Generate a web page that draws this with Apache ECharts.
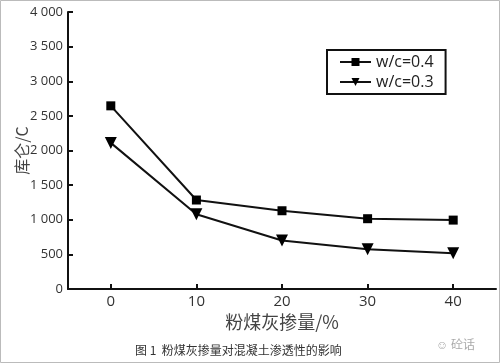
<!DOCTYPE html>
<html><head><meta charset="utf-8">
<script src="https://cdn.jsdelivr.net/npm/echarts@6/dist/echarts.min.js"></script>
<style>html,body{margin:0;padding:0;background:#fff}#c{width:500px;height:363px}</style>
</head><body><div id="c"></div>
<script>
const fly = [0, 10, 20, 30, 40];
const wc04 = [2645, 1285, 1130, 1015, 995];
const wc03 = [2110, 1080, 700, 575, 515];
const yTicks = [0, 500, 1000, 1500, 2000, 2500, 3000, 3500, 4000];
const names = ['w/c=0.4', 'w/c=0.3'];
const font = '"Open Sans", "Noto Sans CJK SC", sans-serif';
const cjk = '"Noto Sans CJK SC", sans-serif';
const chart = echarts.init(document.getElementById('c'));
const fmt = v => v >= 1000 ? Math.floor(v/1000) + ' ' + String(v%1000).padStart(3,'0') : String(v);
chart.setOption({
  animation: false,
  backgroundColor: '#fff',
  grid: {left: 68, right: 4, top: 12, bottom: 74, containLabel: false, outerBoundsMode: 'none'},
  xAxis: {
    type: 'value', min: -5, max: 45,
    name: '粉煤灰掺量/%', nameLocation: 'middle', nameGap: 24, nameMoveOverlap: false,
    nameTextStyle: {fontSize: 18, color: '#444', fontFamily: cjk},
    axisLine: {onZero: false, lineStyle: {color: '#111', width: 2}},
    axisTick: {inside: true, length: 5, lineStyle: {color: '#111', width: 2}, customValues: fly},
    axisLabel: {fontSize: 15, color: '#333', margin: 5, fontFamily: font, customValues: fly},
    splitLine: {show: false}
  },
  yAxis: {
    type: 'value', min: 0, max: 4000, interval: 500,
    name: '库仑/C', nameLocation: 'middle', nameGap: 38, nameMoveOverlap: false,
    nameTextStyle: {fontSize: 16, color: '#444', fontFamily: cjk},
    axisLine: {show: true, onZero: false, lineStyle: {color: '#111', width: 2}},
    axisTick: {show: true, inside: true, length: 5, lineStyle: {color: '#111', width: 2}},
    axisLabel: {fontSize: 13, color: '#333', margin: 5, fontFamily: font, formatter: fmt},
    splitLine: {show: false}
  },
  legend: {
    left: 327, top: 50, orient: 'vertical', itemGap: 4,
    itemWidth: 31, itemHeight: 10,
    borderColor: '#111', borderWidth: 2, padding: [4, 12, 4, 12],
    textStyle: {fontSize: 16, color: '#222', fontFamily: font},
    data: names
  },
  series: [
    {name: names[0], type: 'line', data: fly.map((x,i)=>[x, wc04[i]]),
     symbol: 'rect', symbolSize: 9, itemStyle: {color: '#000'},
     lineStyle: {color: '#111', width: 2}},
    {name: names[1], type: 'line', data: fly.map((x,i)=>[x, wc03[i]]),
     symbol: 'triangle', symbolRotate: 180, symbolSize: 12, itemStyle: {color: '#000'},
     lineStyle: {color: '#111', width: 2}}
  ],
  graphic: [
    {type: 'rect', shape: {x: 0.5, y: 0.5, width: 499, height: 362}, style: {fill: 'none', stroke: '#bbb', lineWidth: 1}},
    {type: 'text', left: 135, top: 344, style: {text: '图 1  粉煤灰掺量对混凝土渗透性的影响', fontSize: 12, fill: '#333', fontFamily: cjk}},
    {type: 'text', left: 436, top: 338, style: {text: '☺ 砼话', fontSize: 12, fill: '#aaa', fontFamily: cjk}}
  ]
});
</script></body></html>
